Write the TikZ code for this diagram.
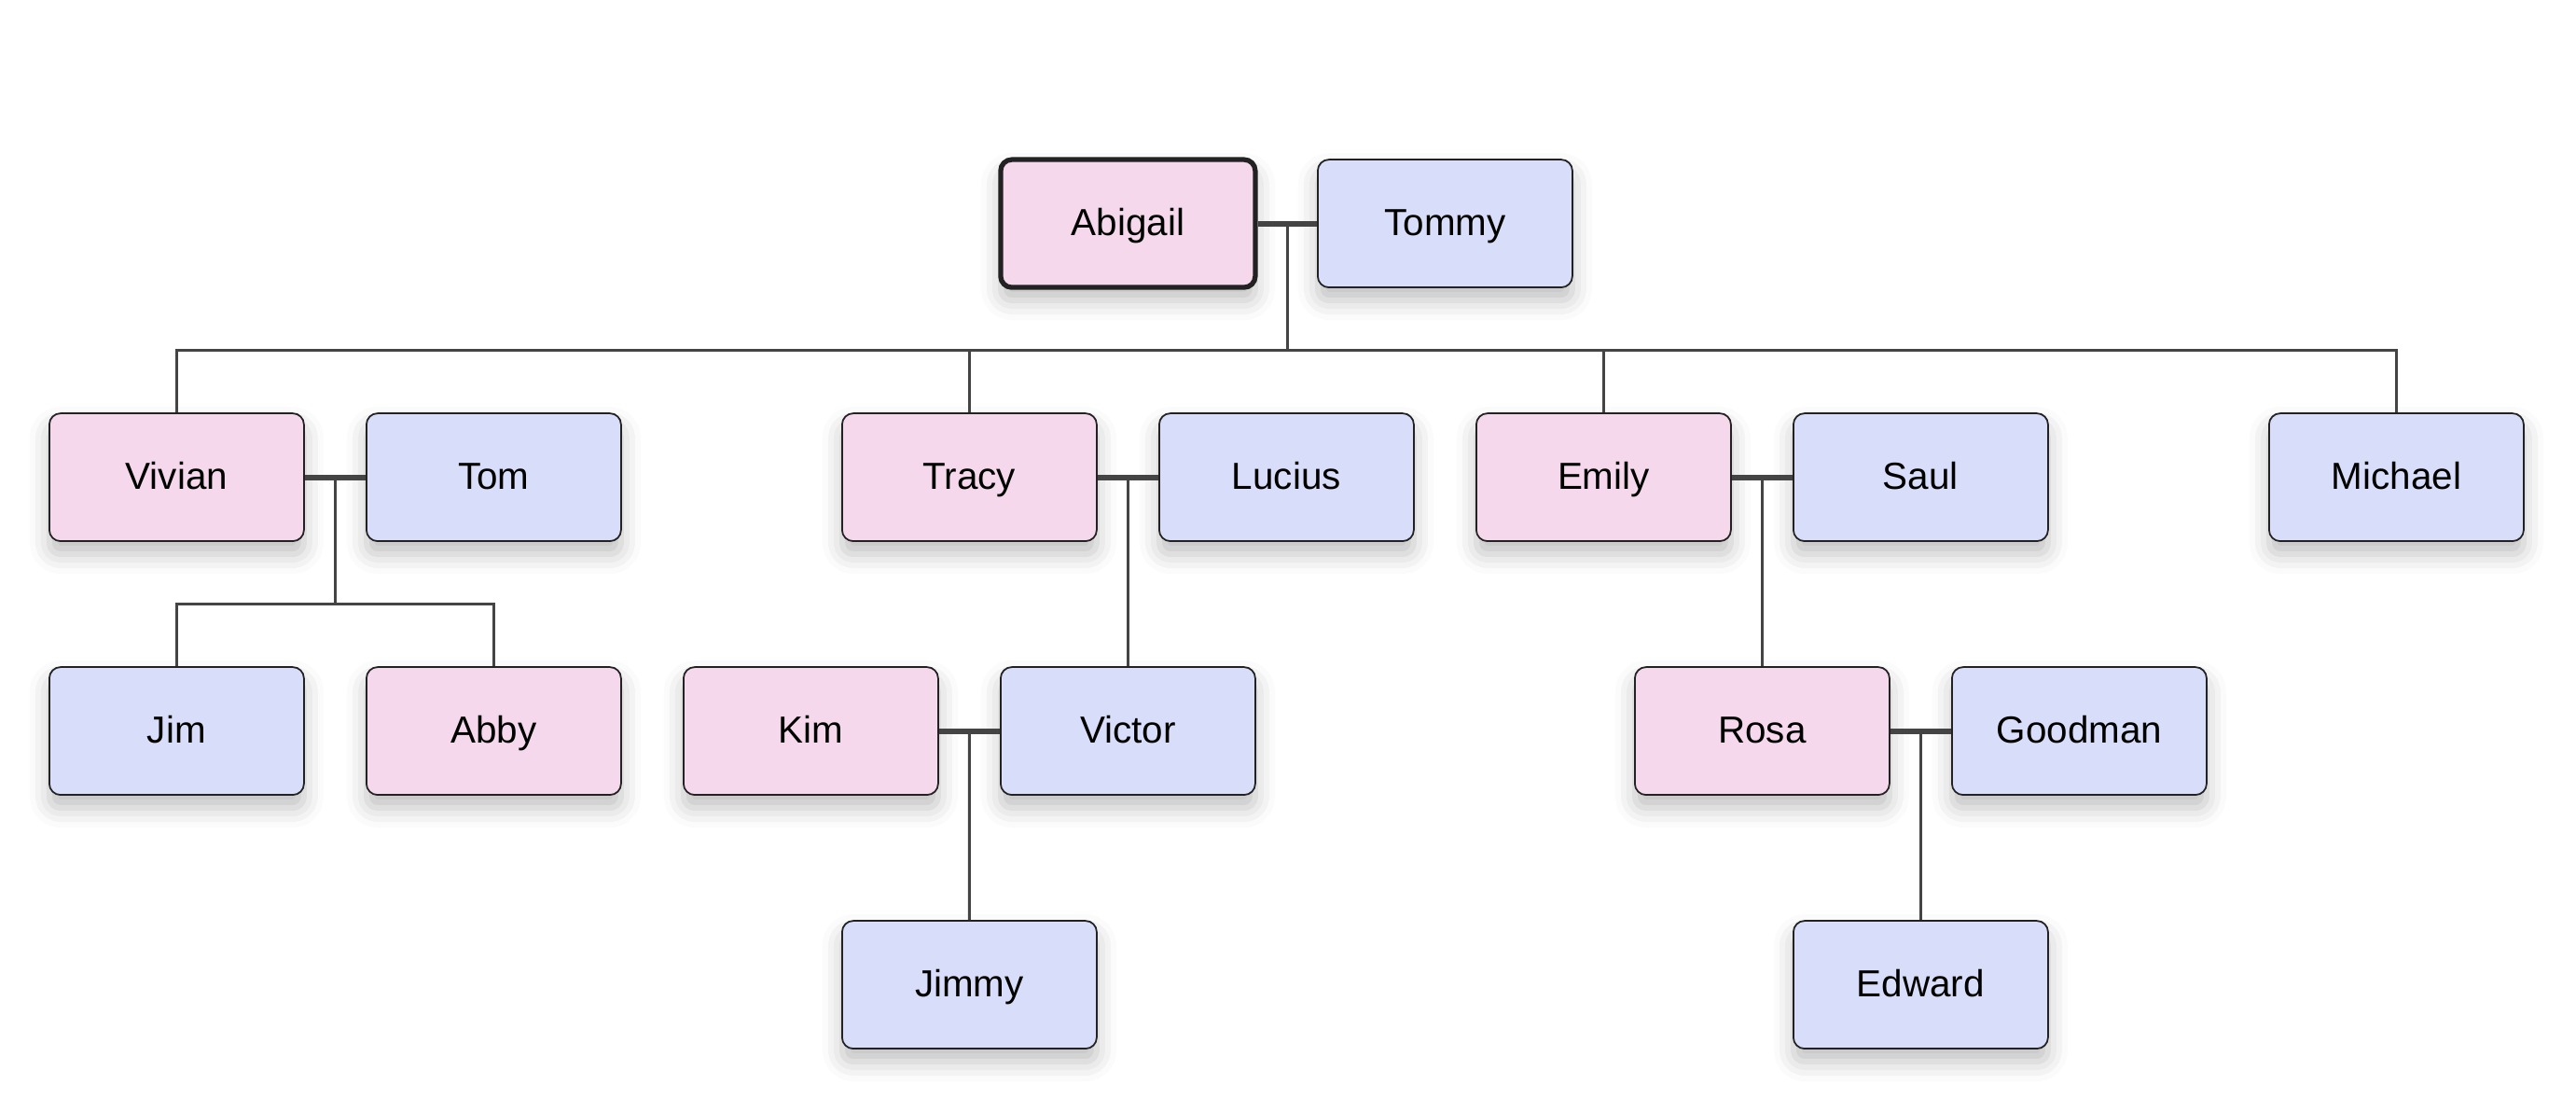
\documentclass[tikz,border=0pt]{standalone}
\usepackage{fontspec}
\setmainfont{Liberation Sans}
\definecolor{FemaleColor}{RGB}{246,216,236}
\definecolor{MaleColor}{RGB}{216,222,250}
\definecolor{LineColor}{RGB}{68,68,68}
\definecolor{BorderColor}{RGB}{34,34,34}
\usetikzlibrary{positioning, calc, shadows.blur}

\tikzset{
    person/.style={draw=BorderColor, line width=0.5pt, rounded corners=3.4pt,
        minimum width=2.73cm, minimum height=1.37cm, inner sep=0pt,
        text height=0.716em, text depth=0pt,
        font=\fontsize{11.5}{14}\selectfont,
        blur shadow={shadow xshift=0pt, shadow yshift=-4pt, shadow blur radius=6pt, shadow opacity=25}},
    female/.style={person, fill=FemaleColor},
    male/.style={person, fill=MaleColor},
    root/.style={line width=1.5pt},
    marriage/.style={LineColor, line width=1.7pt},
    descent/.style={LineColor, line width=0.85pt},
}

\begin{document}
\begin{tikzpicture}
    \def\hx{1.70} \def\vy{2.72} \def\xo{1.894} \def\yo{9.524}
    \useasboundingbox (0,0) rectangle (27.62,11.92);
    % Row 0
    \node[female, root] (abigail) at (\xo+6*\hx, \yo) {Abigail};
    \node[male] (tommy) at (\xo+8*\hx, \yo) {Tommy};
    % Row 1
    \node[female] (vivian) at (\xo+0*\hx, \yo-\vy) {Vivian};
    \node[male] (tom) at (\xo+2*\hx, \yo-\vy) {Tom};
    \node[female] (tracy) at (\xo+5*\hx, \yo-\vy) {Tracy};
    \node[male] (lucius) at (\xo+7*\hx, \yo-\vy) {Lucius};
    \node[female] (emily) at (\xo+9*\hx, \yo-\vy) {Emily};
    \node[male] (saul) at (\xo+11*\hx, \yo-\vy) {Saul};
    \node[male] (michael) at (\xo+14*\hx, \yo-\vy) {Michael};
    % Row 2
    \node[male] (jim) at (\xo+0*\hx, \yo-2*\vy) {Jim};
    \node[female] (abby) at (\xo+2*\hx, \yo-2*\vy) {Abby};
    \node[female] (kim) at (\xo+4*\hx, \yo-2*\vy) {Kim};
    \node[male] (victor) at (\xo+6*\hx, \yo-2*\vy) {Victor};
    \node[female] (rosa) at (\xo+10*\hx, \yo-2*\vy) {Rosa};
    \node[male] (goodman) at (\xo+12*\hx, \yo-2*\vy) {Goodman};
    % Row 3
    \node[male] (jimmy) at (\xo+5*\hx, \yo-3*\vy) {Jimmy};
    \node[male] (edward) at (\xo+11*\hx, \yo-3*\vy) {Edward};
    % Couples
    \foreach \w/\h/\m in {abigail/tommy/m0, vivian/tom/m1, tracy/lucius/m2, emily/saul/m3, kim/victor/m4, rosa/goodman/m5} {
            \draw[marriage] (\w) -- (\h);
            \coordinate (\m) at ($(\w.east)!0.5!(\h.west)$);
        }
    % Children
    \foreach \m/\c in {m0/vivian, m0/tracy, m0/emily, m0/michael, m1/jim, m1/abby, m2/victor, m3/rosa, m4/jimmy, m5/edward} {
            \draw[descent] (\m) -- ($(\m)!0.5!(\m |- \c)$) -| (\c.north);
        }
\end{tikzpicture}
\end{document}
